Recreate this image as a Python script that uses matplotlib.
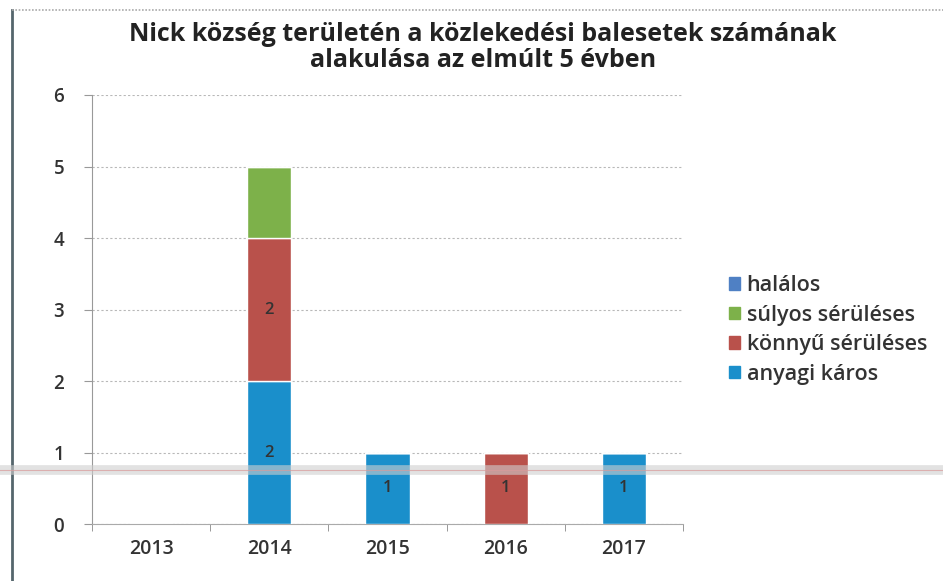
import matplotlib
matplotlib.use("Agg")
import matplotlib.pyplot as plt
from matplotlib.lines import Line2D
from matplotlib.patches import Rectangle
import numpy as np

years = ["2013", "2014", "2015", "2016", "2017"]
halalos = [0, 0, 0, 0, 0]
anyagi = [0, 2, 1, 0, 1]
konnyu = [0, 2, 0, 1, 0]
sulyos = [0, 1, 0, 0, 0]
series_names = ["halálos", "súlyos sérüléses", "könnyű sérüléses", "anyagi káros"]
label_anyagi = ["", "2", "1", "", "1"]
label_konnyu = ["", "2", "", "1", ""]

title = "Nick község területén a közlekedési balesetek számának\nalakulása az elmúlt 5 évben"

c_blue = "#1a8fcb"
c_red = "#b9514b"
c_green = "#7db14a"
c_hal = "#4f80c4"

plt.rcParams['font.family'] = ['Open Sans', 'DejaVu Sans']

fig = plt.figure(figsize=(9.43, 5.81), dpi=100)
ax = fig.add_axes([0.0976, 0.098, 0.6267, 0.7385])

x = np.arange(len(years))
w = 0.375
a = np.array(anyagi, float)
k = np.array(konnyu, float)
s = np.array(sulyos, float)
h = np.array(halalos, float)
ax.bar(x, a, w, color=c_blue, edgecolor="white", linewidth=1, zorder=3)
ax.bar(x, k, w, bottom=a, color=c_red, edgecolor="white", linewidth=1, zorder=3)
ax.bar(x, s, w, bottom=a + k, color=c_green, edgecolor="white", linewidth=1, zorder=3)
ax.bar(x, h, w, bottom=a + k + s, color=c_hal, edgecolor="white", linewidth=1, zorder=3)

for i in range(len(years)):
    if label_anyagi[i]:
        ax.text(x[i], a[i] / 2, label_anyagi[i], ha="center", va="center",
                fontsize=12, fontweight="semibold", color="#333333", zorder=4)
    if label_konnyu[i]:
        ax.text(x[i], a[i] + k[i] / 2, label_konnyu[i], ha="center", va="center",
                fontsize=12, fontweight="semibold", color="#333333", zorder=4)

ax.set_xlim(-0.5, len(years) - 0.5)
ax.set_ylim(0, 6)
ax.set_yticks(range(0, 7))
ax.set_yticklabels([str(v) for v in range(0, 7)])
ax.set_xticks(x)
ax.set_xticklabels(years)
ax.set_xticks(np.arange(-0.5, len(years)), minor=True)
ax.tick_params(axis="x", which="major", length=0, pad=11, labelsize=14, labelcolor="#333333")
ax.tick_params(axis="x", which="minor", length=5, color="#888888", direction="out")
ax.tick_params(axis="y", length=6, color="#999999", pad=14, labelsize=13.5, labelcolor="#333333")
for lbl in ax.get_xticklabels() + ax.get_yticklabels():
    lbl.set_fontweight("semibold")
ax.grid(axis="y", linestyle=(0, (2, 2)), color="#b8b8b8", linewidth=0.8, zorder=0)
for sp in ["top", "right"]:
    ax.spines[sp].set_visible(False)
ax.spines["left"].set_color("#999999")
ax.spines["bottom"].set_color("#aaaaaa")

fig.text(0.512, 0.918, title, ha="center", va="center", fontsize=18,
         fontweight="bold", color="#222222", linespacing=1.05)

handles = [Rectangle((0, 0), 1, 1, color=c) for c in [c_hal, c_green, c_red, c_blue]]
fig.legend(handles, series_names, loc="upper left", bbox_to_anchor=(0.753, 0.56),
           frameon=False, handlelength=0.5, handleheight=0.5,
           handletextpad=0.3, labelspacing=0.4, labelcolor="#333333",
           prop={"weight": "semibold", "size": 15.5})

# chart frame
fig.add_artist(Line2D([0.013, 0.013], [0.0, 0.983], color="#55666c", linewidth=2))
fig.add_artist(Line2D([0.013, 1.0], [0.983, 0.983], color="#aaaaaa", linewidth=1.2,
                      linestyle=(0, (1, 1))))
# scan artifact band
fig.add_artist(Line2D([0, 1], [0.191, 0.191], color="#cfcfcf", linewidth=7, alpha=0.6, zorder=10))
fig.add_artist(Line2D([0, 1], [0.191, 0.191], color="#d99a9a", linewidth=0.8, alpha=0.7, zorder=11))

fig.savefig("out.png", dpi=100)
